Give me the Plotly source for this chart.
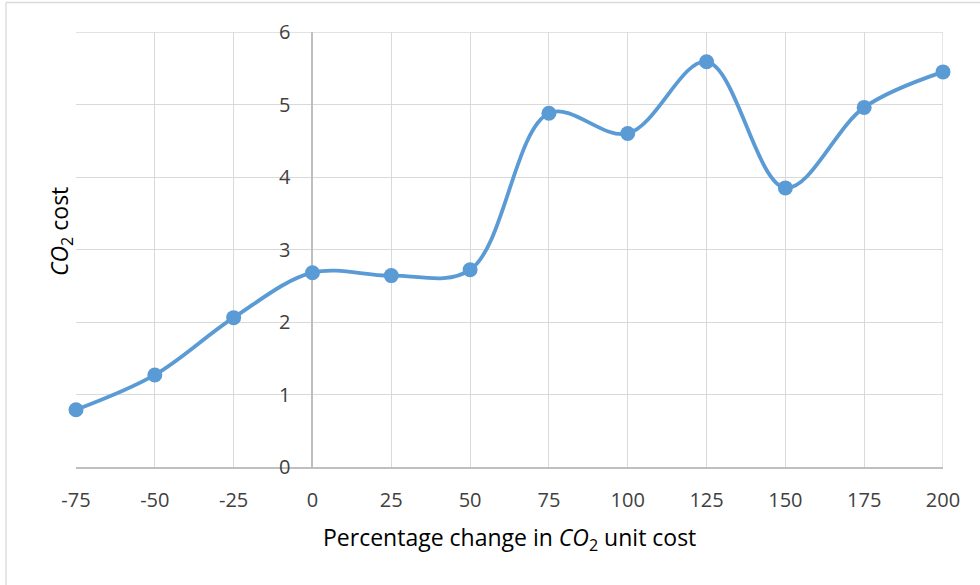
import plotly.graph_objects as go

# Sensitivity of CO2 cost to the CO2 unit cost
pct_change = [-75, -50, -25, 0, 25, 50, 75, 100, 125, 150, 175, 200]
co2_cost = [0.79, 1.27, 2.06, 2.68, 2.64, 2.72, 4.88, 4.60, 5.59, 3.85, 4.96, 5.45]
x_ticks = [-75, -50, -25, 0, 25, 50, 75, 100, 125, 150, 175, 200]
x_tick_text = [str(v) for v in x_ticks]  # plain hyphen for negatives
y_ticks = [0, 1, 2, 3, 4, 5, 6]

W, H = 980, 585
L, R, T, B = 76, 37, 32, 118
plot_w = W - L - R
plot_h = H - T - B

FONT = "Open Sans"
BLUE = "#5B9BD5"
GRID = "#d9d9d9"
AXIS = "#bfbfbf"
TICK = "#404040"

x_min, x_max = x_ticks[0], x_ticks[-1]
# fraction of the x domain where the value axis crosses (x = 0)
y_axis_pos = (0 - x_min) / (x_max - x_min)

fig = go.Figure()
fig.add_trace(go.Scatter(
    x=pct_change, y=co2_cost,
    mode="lines+markers",
    line=dict(color=BLUE, width=3.8, shape="spline", smoothing=1.0),
    marker=dict(color=BLUE, size=15),
    cliponaxis=False,
    showlegend=False, hoverinfo="x+y",
))

fig.update_layout(
    width=W, height=H,
    margin=dict(l=L, r=R, t=T, b=B),
    paper_bgcolor="white", plot_bgcolor="white",
    font=dict(family=FONT, color=TICK, size=20),
    xaxis=dict(
        range=[x_min, x_max], tickvals=x_ticks, ticktext=x_tick_text,
        showgrid=True, gridcolor=GRID, gridwidth=1.3,
        zeroline=True, zerolinecolor=AXIS, zerolinewidth=1.5,
        showline=True, linecolor=AXIS, linewidth=1.5, mirror=False,
        ticks="", ticklabelstandoff=14,
        tickfont=dict(family=FONT, size=20, color=TICK),
    ),
    yaxis=dict(
        range=[0, 6], tickvals=y_ticks,
        showgrid=True, gridcolor=GRID, gridwidth=1.3,
        zeroline=False, showline=False,
        anchor="free", position=y_axis_pos,
        ticks="", ticklabelstandoff=22,
        tickfont=dict(family=FONT, size=20, color=TICK),
    ),
)

# right and top edges of the grid
fig.add_shape(type="line", xref="x", yref="y", x0=x_max, x1=x_max, y0=0, y1=6,
              line=dict(color=GRID, width=1.3), layer="below")
fig.add_shape(type="line", xref="x", yref="y", x0=x_min, x1=x_max, y0=6, y1=6,
              line=dict(color=GRID, width=1.3), layer="below")

# chart area frame (top and left edges)
def px_x(p):
    return (p - L) / plot_w

def px_y(p):
    return 1 - (p - T) / plot_h

fig.add_shape(type="line", xref="paper", yref="paper",
              x0=px_x(6), x1=px_x(990), y0=px_y(2.5), y1=px_y(2.5),
              line=dict(color="#d9d9d9", width=1.3))
fig.add_shape(type="line", xref="paper", yref="paper",
              x0=px_x(6), x1=px_x(6), y0=px_y(2.5), y1=px_y(600),
              line=dict(color="#d9d9d9", width=1.3))

# axis titles
fig.add_annotation(
    text="Percentage change in <i>CO</i><sub>2</sub> unit cost",
    xref="paper", yref="paper", x=px_x(509), y=px_y(538),
    showarrow=False, xanchor="center", yanchor="middle",
    font=dict(family=FONT, size=23, color="#000000"),
)
fig.add_annotation(
    text="<i>CO</i><sub>2</sub> cost",
    xref="paper", yref="paper", x=px_x(60), y=px_y(232),
    showarrow=False, xanchor="center", yanchor="middle", textangle=-90,
    font=dict(family=FONT, size=23, color="#000000"),
)

fig.write_html("out.html")
